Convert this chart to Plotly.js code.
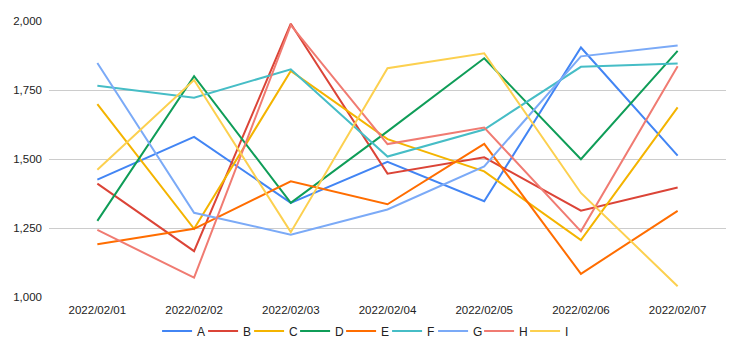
<!DOCTYPE html>
<html>
<head>
<meta charset="utf-8">
<script src="https://cdn.plot.ly/plotly-3.0.1.min.js"></script>
<style>
  html, body { margin: 0; padding: 0; background: #fff; }
  #chart { width: 740px; height: 353px; }
</style>
</head>
<body>
<div id="chart"></div>
<script>
const categories = ["2022/02/01", "2022/02/02", "2022/02/03", "2022/02/04", "2022/02/05", "2022/02/06", "2022/02/07"];
const seriesNames = ["A", "B", "C", "D", "E", "F", "G", "H", "I"];
const A = [1425, 1580, 1341, 1490, 1347, 1904, 1512];
const B = [1411, 1166, 1990, 1447, 1506, 1313, 1397];
const C = [1699, 1247, 1819, 1572, 1455, 1206, 1687];
const D = [1276, 1800, 1341, 1600, 1865, 1499, 1892];
const E = [1191, 1247, 1419, 1336, 1555, 1084, 1312];
const F = [1765, 1722, 1825, 1509, 1607, 1834, 1846];
const G = [1848, 1305, 1226, 1317, 1473, 1872, 1911];
const H = [1243, 1070, 1985, 1554, 1614, 1238, 1836];
const I = [1461, 1786, 1235, 1829, 1883, 1377, 1039];
const yTicks = [1000, 1250, 1500, 1750, 2000];

const seriesValues = [A, B, C, D, E, F, G, H, I];
const colors = ["#4285F4", "#DB4437", "#F4B400", "#0F9D58", "#FF6D00", "#46BDC6", "#7BAAF7", "#F07B72", "#FCD04F"];

const traces = seriesNames.map((name, i) => ({
  type: "scatter",
  mode: "lines",
  name: name,
  x: categories,
  y: seriesValues[i],
  line: { color: colors[i], width: 2 },
  hoverinfo: "x+y+name"
}));

const font = { family: "Liberation Sans, Arial, sans-serif", size: 11.5, color: "#222222" };

const layout = {
  width: 740,
  height: 353,
  margin: { l: 49, r: 14, t: 21, b: 56 },
  paper_bgcolor: "#ffffff",
  plot_bgcolor: "#ffffff",
  font: font,
  showlegend: true,
  legend: {
    orientation: "h",
    xref: "container",
    yref: "container",
    x: 0.492,
    xanchor: "center",
    y: 0.062,
    yanchor: "middle",
    font: { family: "Liberation Sans, Arial, sans-serif", size: 12, color: "#222222" },
    itemwidth: 30,
    entrywidth: 1,
    traceorder: "normal"
  },
  xaxis: {
    type: "category",
    range: [-0.5, 6.5],
    showgrid: false,
    zeroline: false,
    showline: false,
    ticks: "",
    ticklabelstandoff: 4,
    tickfont: font,
    fixedrange: true
  },
  yaxis: {
    range: [1000, 2000],
    tickvals: yTicks,
    tickformat: ",",
    showgrid: true,
    gridcolor: "#cccccc",
    gridwidth: 1,
    zeroline: false,
    showline: false,
    ticks: "",
    ticklabelstandoff: 6,
    tickfont: font,
    fixedrange: true
  }
};

Plotly.newPlot("chart", traces, layout, { displayModeBar: false, staticPlot: true });
</script>
</body>
</html>
